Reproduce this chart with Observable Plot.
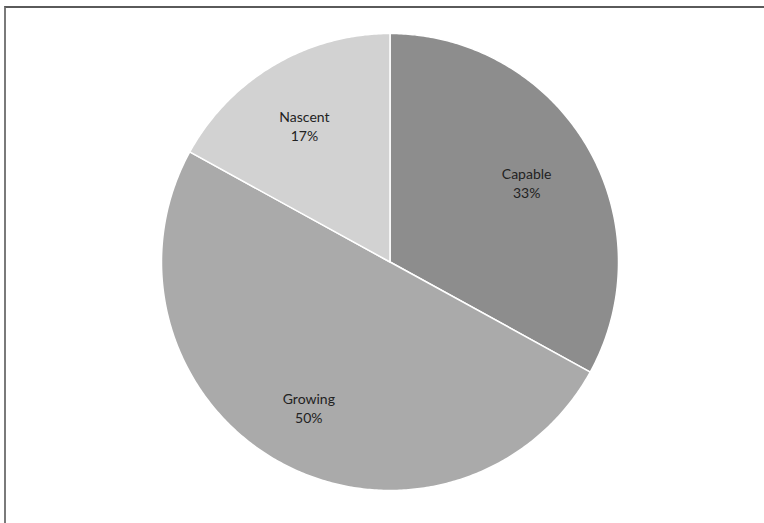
<!DOCTYPE html>
<html>
<head>
<meta charset="utf-8">
<script src="https://cdn.jsdelivr.net/npm/d3@7"></script>
<script src="https://cdn.jsdelivr.net/npm/@observablehq/plot@0.6"></script>
<style>
  html, body { margin: 0; padding: 0; background: #fff; }
  #wrap { position: relative; width: 764px; height: 523px; overflow: hidden; }
  #frame { position: absolute; left: 4px; top: 6px; right: -10px; bottom: -10px;
           border-top: 2px solid #5a5a5a; border-left: 2px solid #7a7a7a; pointer-events: none; }
  #chart { position: absolute; left: 0; top: 0; }
</style>
</head>
<body>
<div id="wrap"><div id="chart"></div><div id="frame"></div></div>
<script>
const categories = ["Capable", "Growing", "Nascent"];
const shares = [33, 50, 17];
const sliceColors = ["#8d8d8d", "#aaaaaa", "#d2d2d2"];

const data = categories.map((c, i) => ({label: c, value: shares[i]}));
const arcs = d3.pie().sort(null).value(d => d.value)(data);

// polygon rows for each slice (unit circle, computed from the data angles)
const rows = [];
for (const a of arcs) {
  const n = Math.max(8, Math.ceil((a.endAngle - a.startAngle) / 0.01));
  rows.push({label: a.data.label, x: 0, y: 0});
  for (let k = 0; k <= n; k++) {
    const t = a.startAngle + (a.endAngle - a.startAngle) * k / n;
    rows.push({label: a.data.label, x: Math.sin(t), y: Math.cos(t)});
  }
  rows.push({label: a.data.label, x: 0, y: 0});
}

const labelR = 0.71;
const labels = arcs.map(a => {
  const m = (a.startAngle + a.endAngle) / 2;
  return {label: a.data.label, text: `${a.data.label}\n${a.data.value}%`, x: labelR * Math.sin(m), y: labelR * Math.cos(m)};
});

const chart = Plot.plot({
  width: 764,
  height: 523,
  marginLeft: 161,
  marginRight: 146,
  marginTop: 33,
  marginBottom: 33,
  x: {domain: [-1, 1], axis: null},
  y: {domain: [-1, 1], axis: null},
  color: {domain: categories, range: sliceColors},
  style: {fontFamily: "Lato, 'Open Sans', sans-serif", background: "transparent"},
  marks: [
    Plot.line(rows, {x: "x", y: "y", z: "label", fill: "label", stroke: "white", strokeWidth: 1.5, curve: "linear"}),
    Plot.text(labels, {x: "x", y: "y", text: "text", fontSize: 14, lineHeight: 1.35, fill: "#222", dx: -3, dy: 3})
  ]
});
document.getElementById("chart").appendChild(chart);
</script>
</body>
</html>
